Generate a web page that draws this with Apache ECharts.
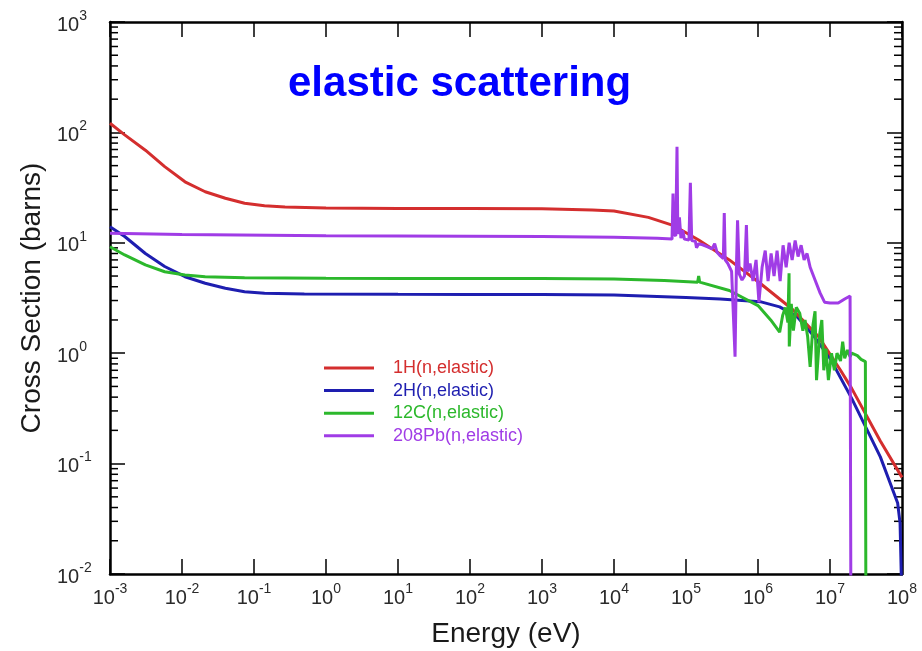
<!DOCTYPE html>
<html>
<head>
<meta charset="utf-8">
<script src="https://cdn.jsdelivr.net/npm/echarts@6/dist/echarts.min.js"></script>
<style>
  html, body { margin: 0; padding: 0; background: #fff; }
  #chart { width: 922px; height: 651px; }
</style>
</head>
<body>
<div id="chart"></div>
<script>
// energy (eV) / cross section (barns) pairs
var h1 = [[1e-3, 121], [1.6e-3, 95], [3.1e-3, 69], [5.75e-3, 49], [1.1e-2, 35.7], [2.1e-2, 29], [4e-2, 25.3],
  [7.4e-2, 22.8], [1.4e-1, 21.7], [2.7e-1, 21.1], [1, 20.7], [1e1, 20.5], [1e2, 20.4], [1e3, 20.3], [5e3, 19.8],
  [1e4, 19.4], [3e4, 17], [6.6e4, 14.4], [1.5e5, 10.6], [4e5, 7], [1.07e6, 4.3], [3e6, 2.5], [7e6, 1.4],
  [1.4e7, 0.7], [2e7, 0.48], [5e7, 0.16], [1e8, 0.075]]

var h2 = [[1e-3, 14], [1.6e-3, 11.4], [3.1e-3, 8.0], [5.75e-3, 6.1], [1.1e-2, 4.93], [2.1e-2, 4.3], [4e-2, 3.87],
  [7.4e-2, 3.61], [1.4e-1, 3.49], [5e-1, 3.44], [1e1, 3.42], [1e2, 3.41], [1e3, 3.4], [1e4, 3.37], [1e5, 3.2],
  [3e5, 3.1], [1.07e6, 2.93], [2e6, 2.63], [3.5e6, 2.14], [6e6, 1.42], [1e7, 0.9], [2e7, 0.39], [5e7, 0.115],
  [8.7e7, 0.044], [9.4e7, 0.029], [1e8, 0.005]]

var c12 = [[1e-3, 9.2], [1.6e-3, 7.76], [3.1e-3, 6.3], [5.75e-3, 5.47], [1.1e-2, 5.1], [2.1e-2, 4.93],
  [7.4e-2, 4.83], [1, 4.78], [1e1, 4.76], [1e2, 4.75], [1e3, 4.74], [1e4, 4.7], [5e4, 4.55], [1.45e5, 4.4],
  [1.5e5, 5.0], [1.55e5, 4.4], [4e5, 3.7], [1e6, 2.7], [1.5e6, 2.0], [2e6, 1.55], [2.2e6, 2.2], [2.4e6, 2.6],
  [2.6e6, 1.9], [2.7e6, 5.3], [2.72e6, 1.15], [2.9e6, 2.8], [3.1e6, 1.6], [3.4e6, 2.6], [3.8e6, 2.3],
  [4.2e6, 1.6], [4.5e6, 2.0], [4.9e6, 1.4], [5.3e6, 0.75], [5.8e6, 1.8], [6.2e6, 2.4], [6.5e6, 0.57],
  [7.2e6, 1.5], [7.7e6, 2.0], [8.2e6, 0.7], [8.8e6, 1.1], [9.5e6, 0.57], [1.05e7, 1.0], [1.15e7, 0.7],
  [1.25e7, 1.0], [1.4e7, 0.85], [1.5e7, 1.27], [1.6e7, 0.9], [1.75e7, 1.07], [1.9e7, 0.93], [2.0e7, 1.0],
  [2.4e7, 0.95], [2.7e7, 0.88], [3.1e7, 0.84], [3.15e7, 0.005]]

var pb208 = [[1e-3, 12.2], [1e-2, 11.9], [1, 11.6], [1e3, 11.4], [1e4, 11.2], [4e4, 11.0], [6.4e4, 10.8],
  [6.6e4, 28], [6.8e4, 12], [7.2e4, 11.5], [7.5e4, 74], [7.7e4, 12], [8.1e4, 17], [8.5e4, 11], [9e4, 13],
  [9.5e4, 10.8], [1.1e5, 10.6], [1.15e5, 35], [1.2e5, 10.5], [1.35e5, 10.3], [1.4e5, 9], [1.5e5, 9.8],
  [1.7e5, 9.6], [2e5, 9.2], [2.3e5, 8.8], [2.5e5, 9.8], [2.7e5, 8.2], [3e5, 7.6], [3.3e5, 7.2], [3.4e5, 18.6],
  [3.5e5, 7.0], [3.8e5, 6.5], [4.3e5, 5.5], [4.8e5, 0.93], [5e5, 5.5], [5.2e5, 16], [5.5e5, 5.2], [6e5, 4.6],
  [6.5e5, 5.0], [6.9e5, 14.5], [7.2e5, 5.5], [7.75e5, 6.5], [8.5e5, 4.5], [9.4e5, 7], [1.03e6, 2.9],
  [1.14e6, 6], [1.26e6, 8.5], [1.38e6, 4.5], [1.52e6, 8], [1.67e6, 5], [1.84e6, 8.5], [2.03e6, 4.5],
  [2.23e6, 9.5], [2.46e6, 6], [2.71e6, 10], [2.98e6, 7], [3.28e6, 10.5], [3.6e6, 7.5], [3.97e6, 9.5],
  [4.37e6, 7], [4.8e6, 8], [5.3e6, 6], [6.2e6, 4.6], [7.3e6, 3.5], [8.4e6, 2.9], [1.0e7, 2.85], [1.3e7, 2.85],
  [1.6e7, 3.1], [1.9e7, 3.3], [1.95e7, 0.005]]

var seriesNames = ['1H(n,elastic)', '2H(n,elastic)', '12C(n,elastic)', '208Pb(n,elastic)']
var seriesColors = ['#d42e2e', '#1e1eb0', '#2cb82c', '#a03ce6']

// minor ticks of the y axis (2..9 in each decade)
var minorTicks = []
for (var d = -2; d < 3; d++) {
  for (var k = 2; k < 10; k++) minorTicks.push([1e-3, k * Math.pow(10, d)])
}

var font = "'Liberation Sans', Arial, Helvetica, sans-serif"
var powLabel = function (v) {
  return '{b|10}{s|' + Math.round(Math.log10(v)) + '}'
}
var labelRich = {
  b: { fontSize: 20, lineHeight: 26, verticalAlign: 'bottom', color: '#2a2a2a', fontFamily: font },
  s: { fontSize: 14, lineHeight: 14, verticalAlign: 'top', color: '#2a2a2a', fontFamily: font }
}
var frameLine = { lineStyle: { color: '#000', width: 2.5 } }
var majorTick = { inside: true, length: 15, lineStyle: { color: '#000', width: 1.5 } }

var chart = echarts.init(document.getElementById('chart'))
chart.setOption({
  animation: false,
  backgroundColor: '#fff',
  title: {
    text: 'elastic scattering',
    left: 283,
    top: 58,
    textStyle: { color: '#0000ff', fontSize: 42, fontWeight: 'bold', fontFamily: font }
  },
  legend: {
    orient: 'vertical',
    left: 319,
    top: 354,
    itemWidth: 50,
    itemHeight: 3,
    itemGap: 4.6,
    icon: 'rect',
    selectedMode: false,
    textStyle: { fontSize: 18, lineHeight: 18, fontFamily: font, padding: [0, 0, 0, 14] },
    data: seriesNames.map(function (n, i) {
      return { name: n, textStyle: { color: seriesColors[i] } }
    })
  },
  grid: { left: 110, right: 20, top: 22, bottom: 77, outerBoundsMode: 'none' },
  xAxis: [
    {
      type: 'log', logBase: 10, min: 1e-3, max: 1e8, interval: 1, splitNumber: 11,
      position: 'bottom',
      axisLine: frameLine, axisTick: majorTick,
      splitLine: { show: false },
      axisLabel: { formatter: powLabel, rich: labelRich, margin: 8, showMinLabel: true, showMaxLabel: true },
      name: 'Energy (eV)', nameLocation: 'middle', nameGap: 46,
      nameTextStyle: { fontSize: 28, color: '#1a1a1a', fontFamily: font }
    },
    {
      type: 'log', logBase: 10, min: 1e-3, max: 1e8, interval: 1, splitNumber: 11,
      position: 'top',
      axisLine: frameLine, axisTick: majorTick,
      splitLine: { show: false }, axisLabel: { show: false }
    }
  ],
  yAxis: [
    {
      type: 'log', logBase: 10, min: 0.01, max: 1000, interval: 1, splitNumber: 5,
      position: 'left',
      axisLine: frameLine, axisTick: majorTick,
      splitLine: { show: false },
      axisLabel: { formatter: powLabel, rich: labelRich, align: 'left', margin: 53 },
      name: 'Cross Section (barns)', nameLocation: 'middle', nameGap: 56, nameRotate: 90,
      nameTextStyle: { fontSize: 28, color: '#1a1a1a', fontFamily: font }
    },
    {
      type: 'log', logBase: 10, min: 0.01, max: 1000, interval: 1, splitNumber: 5,
      position: 'right',
      axisLine: frameLine, axisTick: majorTick,
      splitLine: { show: false }, axisLabel: { show: false }
    }
  ],
  series: [
    { name: seriesNames[1], type: 'line', data: h2, symbol: 'none', clip: true, color: seriesColors[1], lineStyle: { width: 3 } },
    { name: seriesNames[0], type: 'line', data: h1, symbol: 'none', clip: true, color: seriesColors[0], lineStyle: { width: 3 } },
    { name: seriesNames[2], type: 'line', data: c12, symbol: 'none', clip: true, color: seriesColors[2], lineStyle: { width: 3 } },
    { name: seriesNames[3], type: 'line', data: pb208, symbol: 'none', clip: true, color: seriesColors[3], lineStyle: { width: 3 } },
    {
      type: 'custom',
      silent: true,
      clip: false,
      data: minorTicks,
      renderItem: function (params, api) {
        var yv = api.value(1)
        var l = api.coord([1e-3, yv])
        var r = api.coord([1e8, yv])
        return {
          type: 'group',
          children: [
            { type: 'line', shape: { x1: l[0], y1: l[1], x2: l[0] + 8, y2: l[1] }, style: { stroke: '#000', lineWidth: 1.5 } },
            { type: 'line', shape: { x1: r[0] - 8, y1: r[1], x2: r[0], y2: r[1] }, style: { stroke: '#000', lineWidth: 1.5 } }
          ]
        }
      }
    }
  ]
})
</script>
</body>
</html>
